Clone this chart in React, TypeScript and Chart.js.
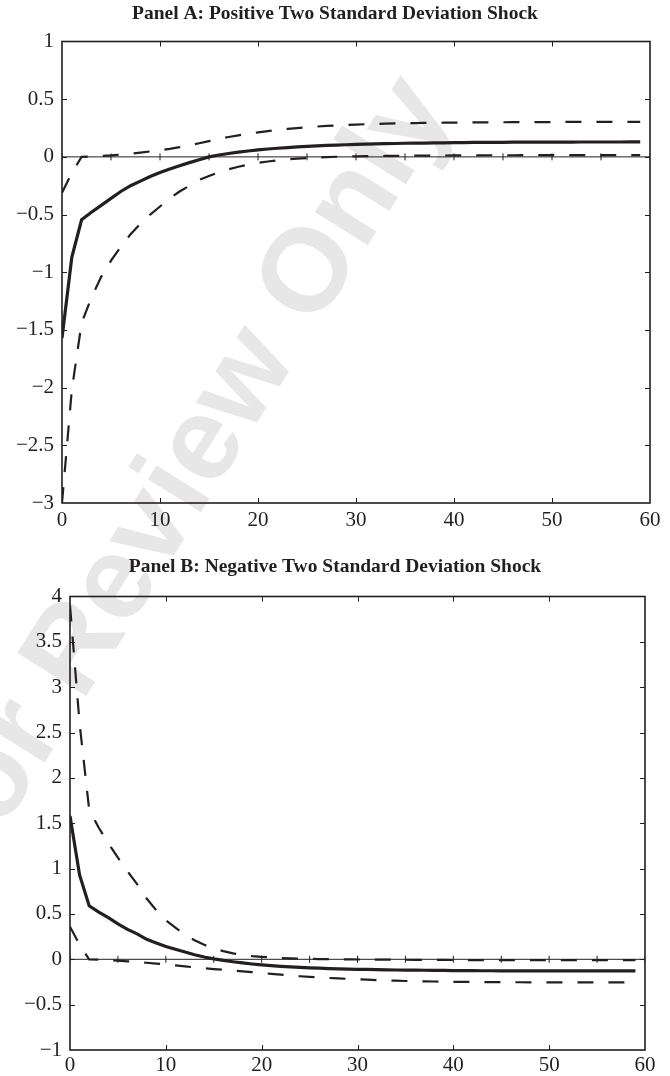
import React, { useEffect, useRef } from "react";
import { Chart, registerables } from "chart.js";

Chart.register(...registerables);

// ---------------- data ----------------
const periods = [0,1,2,3,4,5,6,7,8,9,10,11,12,13,14,15,16,17,18,19,20,21,22,23,24,25,26,27,28,29,30,31,32,33,34,35,36,37,38,39,40,41,42,43,44,45,46,47,48,49,50,51,52,53,54,55,56,57,58,59];
const zeroMarks = [0,5,10,15,20,25,30,35,40,45,50,55,60];
const xTicks = [0,10,20,30,40,50,60];
const yTicksA = [-3,-2.5,-2,-1.5,-1,-0.5,0,0.5,1];
const yTicksB = [-1,-0.5,0,0.5,1,1.5,2,2.5,3,3.5,4];

const titleA = "Panel A: Positive Two Standard Deviation Shock";
const titleB = "Panel B: Negative Two Standard Deviation Shock";

// Panel A: positive shock
const solidA = [-1.57,-0.87,-0.545,-0.48,-0.42,-0.36,-0.30,-0.25,-0.21,-0.17,-0.135,-0.105,-0.077,-0.05,-0.025,0.0,0.016,0.029,0.041,0.051,0.06,0.068,0.075,0.081,0.086,0.091,0.095,0.099,0.102,0.105,0.108,0.110,0.112,0.114,0.116,0.118,0.119,0.120,0.121,0.122,0.123,0.124,0.125,0.125,0.126,0.126,0.127,0.127,0.127,0.128,0.128,0.128,0.128,0.129,0.129,0.129,0.129,0.129,0.13,0.13];
const upperA = [-0.31,-0.14,0.0,0.004,0.008,0.013,0.02,0.028,0.037,0.047,0.058,0.07,0.084,0.1,0.118,0.137,0.155,0.172,0.187,0.2,0.212,0.223,0.233,0.242,0.25,0.257,0.263,0.268,0.273,0.277,0.28,0.283,0.286,0.288,0.29,0.292,0.293,0.294,0.295,0.296,0.297,0.298,0.299,0.299,0.3,0.3,0.301,0.301,0.302,0.302,0.302,0.303,0.303,0.303,0.303,0.304,0.304,0.304,0.304,0.304];
const lowerA = [-3.0,-2.02,-1.44,-1.22,-1.04,-0.9,-0.78,-0.67,-0.58,-0.5,-0.43,-0.36,-0.3,-0.25,-0.2,-0.165,-0.135,-0.108,-0.086,-0.067,-0.052,-0.04,-0.03,-0.022,-0.015,-0.01,-0.005,-0.002,0.001,0.003,0.005,0.006,0.007,0.008,0.009,0.01,0.011,0.011,0.012,0.012,0.013,0.013,0.013,0.014,0.014,0.014,0.014,0.015,0.015,0.015,0.015,0.015,0.015,0.016,0.016,0.016,0.016,0.016,0.016,0.016];

// Panel B: negative shock
const solidB = [1.58,0.93,0.59,0.52,0.46,0.39,0.33,0.28,0.22,0.18,0.14,0.11,0.08,0.05,0.025,0.005,-0.012,-0.027,-0.04,-0.052,-0.062,-0.07,-0.077,-0.083,-0.089,-0.094,-0.098,-0.102,-0.105,-0.108,-0.11,-0.112,-0.114,-0.116,-0.118,-0.119,-0.12,-0.121,-0.122,-0.123,-0.124,-0.125,-0.125,-0.126,-0.126,-0.127,-0.127,-0.127,-0.127,-0.128,-0.128,-0.128,-0.128,-0.128,-0.128,-0.128,-0.128,-0.128,-0.128,-0.128];
const upperB = [3.9,2.6,1.65,1.45,1.28,1.12,0.97,0.83,0.67,0.54,0.43,0.35,0.27,0.21,0.16,0.12,0.09,0.065,0.047,0.035,0.027,0.02,0.015,0.011,0.008,0.005,0.003,0.001,0.0,-0.001,-0.002,-0.003,-0.004,-0.004,-0.005,-0.005,-0.006,-0.006,-0.007,-0.007,-0.008,-0.008,-0.008,-0.009,-0.009,-0.009,-0.009,-0.01,-0.01,-0.01,-0.01,-0.01,-0.01,-0.01,-0.01,-0.01,-0.01,-0.01,-0.01,-0.01];
const lowerB = [0.36,0.16,0.0,-0.003,-0.008,-0.015,-0.022,-0.03,-0.038,-0.047,-0.057,-0.067,-0.078,-0.089,-0.099,-0.108,-0.116,-0.125,-0.133,-0.141,-0.15,-0.16,-0.17,-0.179,-0.187,-0.194,-0.2,-0.206,-0.211,-0.216,-0.221,-0.225,-0.229,-0.233,-0.236,-0.239,-0.241,-0.243,-0.245,-0.247,-0.248,-0.249,-0.25,-0.251,-0.252,-0.252,-0.253,-0.253,-0.254,-0.254,-0.254,-0.255,-0.255,-0.255,-0.255,-0.255,-0.255,-0.255,-0.255,-0.255];

const watermark = "For Review Only";

// ---------------- styling ----------------
const INK = "#231f20";
const SERIF = "'Liberation Serif', 'Times New Roman', Times, serif";

function fmt(v: number): string {
  const s = String(Math.abs(v));
  return v < 0 ? "\u2212" + s : s;
}

const boxPlugin = {
  id: "boxAxes",
  afterDatasetsDraw(chart: any) {
    const { ctx, chartArea: a, scales } = chart;
    const xs = scales.x;
    const ys = scales.y;
    const L = 5;
    ctx.save();
    ctx.strokeStyle = INK;
    ctx.lineWidth = 1;
    ctx.beginPath();
    xs.ticks.forEach((t: any) => {
      const px = Math.round(xs.getPixelForValue(t.value)) + 0.5;
      if (px <= a.left + 1 || px >= a.right - 1) return;
      ctx.moveTo(px, a.bottom);
      ctx.lineTo(px, a.bottom - L);
      ctx.moveTo(px, a.top);
      ctx.lineTo(px, a.top + L);
    });
    ys.ticks.forEach((t: any) => {
      const py = Math.round(ys.getPixelForValue(t.value)) + 0.5;
      if (py <= a.top + 1 || py >= a.bottom - 1) return;
      ctx.moveTo(a.left, py);
      ctx.lineTo(a.left + L, py);
      ctx.moveTo(a.right, py);
      ctx.lineTo(a.right - L, py);
    });
    ctx.stroke();
    ctx.lineWidth = 1.6;
    ctx.strokeRect(a.left, a.top, a.right - a.left, a.bottom - a.top);
    ctx.restore();
  },
};

type PanelProps = {
  title: string;
  yTicks: number[];
  solid: number[];
  upper: number[];
  lower: number[];
  top: number;
  height: number;
  titlePad: { top: number; bottom: number };
  yWidth: number;
  rightWidth: number;
  xHeight: number;
  xPad: number;
};

function Panel(p: PanelProps) {
  const ref = useRef<HTMLCanvasElement | null>(null);
  useEffect(() => {
    if (!ref.current) return;
    const pts = (arr: number[]) => periods.map((x, i) => ({ x, y: arr[i] }));
    const yMin = p.yTicks[0];
    const yMax = p.yTicks[p.yTicks.length - 1];
    const chart = new Chart(ref.current, {
      type: "line",
      data: {
        datasets: [
          {
            data: pts(p.solid),
            borderColor: INK,
            borderWidth: 3.2,
            pointRadius: 0,
            tension: 0,
            fill: false,
          },
          {
            data: pts(p.upper),
            borderColor: INK,
            borderWidth: 2.2,
            borderDash: [16, 15],
            pointRadius: 0,
            tension: 0,
            fill: false,
          },
          {
            data: pts(p.lower),
            borderColor: INK,
            borderWidth: 2.2,
            borderDash: [16, 15],
            pointRadius: 0,
            tension: 0,
            fill: false,
          },
          {
            data: zeroMarks.map((x) => ({ x, y: 0 })),
            borderColor: INK,
            borderWidth: 1,
            pointStyle: "line",
            pointRotation: 90,
            pointRadius: 3.5,
            pointBorderWidth: 1,
            pointBorderColor: INK,
            tension: 0,
            fill: false,
          },
        ],
      } as any,
      options: {
        animation: false,
        responsive: false,
        devicePixelRatio: 1,
        layout: { padding: 0 },
        plugins: {
          legend: { display: false },
          tooltip: { enabled: false },
          title: {
            display: true,
            text: p.title,
            color: INK,
            font: { family: SERIF, size: 19.5, weight: "bold", lineHeight: 1 },
            padding: p.titlePad,
          },
        },
        scales: {
          x: {
            type: "linear",
            min: 0,
            max: 60,
            grid: { display: false, drawTicks: false },
            border: { display: false },
            ticks: {
              color: INK,
              font: { family: SERIF, size: 21, lineHeight: 1.2 },
              padding: p.xPad,
              maxRotation: 0,
              autoSkip: false,
              callback: (v: any) => fmt(Number(v)),
            },
            afterBuildTicks: (s: any) => {
              s.ticks = xTicks.map((v) => ({ value: v }));
            },
            afterFit: (s: any) => {
              s.height = p.xHeight;
            },
          },
          y: {
            type: "linear",
            position: "left",
            min: yMin,
            max: yMax,
            grid: { display: false, drawTicks: false },
            border: { display: false },
            ticks: {
              color: INK,
              font: { family: SERIF, size: 21, lineHeight: 1.2 },
              padding: 8,
              autoSkip: false,
              callback: (v: any) => fmt(Number(v)),
            },
            afterBuildTicks: (s: any) => {
              s.ticks = p.yTicks.map((v) => ({ value: v }));
            },
            afterFit: (s: any) => {
              s.width = p.yWidth;
            },
          },
          yRight: {
            type: "linear",
            position: "right",
            min: yMin,
            max: yMax,
            grid: { display: false, drawTicks: false },
            border: { display: false },
            ticks: { display: false },
            afterFit: (s: any) => {
              s.width = p.rightWidth;
            },
          },
        },
      } as any,
      plugins: [boxPlugin],
    });
    return () => chart.destroy();
  }, []);
  return (
    <canvas
      ref={ref}
      width={670}
      height={p.height}
      style={{ position: "absolute", left: 0, top: p.top, width: 670, height: p.height }}
    />
  );
}

export default function App() {
  return (
    <div
      style={{
        position: "absolute",
        left: 0,
        top: 0,
        width: 670,
        height: 1076,
        background: "#ffffff",
        overflow: "hidden",
      }}
    >
      <div
        style={{
          position: "absolute",
          left: 174,
          top: 478,
          transform: "translate(-50%, -50%) rotate(-58deg)",
          font: "bold 118px 'Liberation Sans', Arial, sans-serif",
          color: "#e7e7e7",
          whiteSpace: "nowrap",
          lineHeight: 1,
          pointerEvents: "none",
        }}
      >
        {watermark}
      </div>
      <Panel
        title={titleA}
        yTicks={yTicksA}
        solid={solidA}
        upper={upperA}
        lower={lowerA}
        top={0}
        height={545}
        titlePad={{ top: 4, bottom: 18 }}
        yWidth={62}
        rightWidth={20}
        xHeight={42}
        xPad={5}
      />
      <Panel
        title={titleB}
        yTicks={yTicksB}
        solid={solidB}
        upper={upperB}
        lower={lowerB}
        top={548}
        height={528}
        titlePad={{ top: 9, bottom: 20 }}
        yWidth={70}
        rightWidth={25}
        xHeight={26}
        xPad={3}
      />
    </div>
  );
}
